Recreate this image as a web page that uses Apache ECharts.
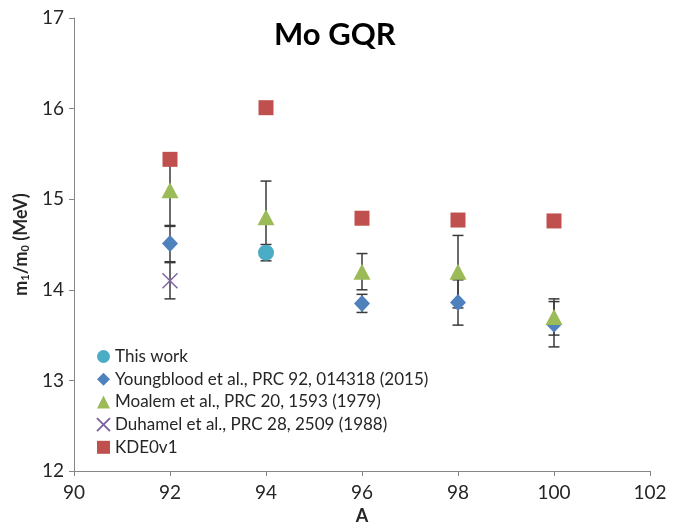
<!DOCTYPE html>
<html>
<head>
<meta charset="utf-8">
<script src="https://cdn.jsdelivr.net/npm/echarts@6/dist/echarts.min.js"></script>
<style>
  html, body { margin: 0; padding: 0; background: #fff; }
  #chart { width: 694px; height: 523px; }
</style>
</head>
<body>
<div id="chart"></div>
<script>
// Mass number A and the m1/m0 centroid energies (MeV) with uncertainties
const massNumbers = [92, 94, 96, 98, 100];

const thisWorkA = [94];
const thisWorkE = [14.41];
const thisWorkErr = [0.09];

const youngbloodA = [92, 96, 98, 100];
const youngbloodE = [14.51, 13.85, 13.86, 13.62];
const youngbloodErr = [0.2, 0.1, 0.25, 0.25];

const moalemA = [92, 94, 96, 98, 100];
const moalemE = [15.1, 14.8, 14.2, 14.2, 13.7];
const moalemErr = [0.4, 0.4, 0.2, 0.4, 0.2];

const duhamelA = [92];
const duhamelE = [14.1];
const duhamelErr = [0.2];

const kdeA = [92, 94, 96, 98, 100];
const kdeE = [15.44, 16.01, 14.79, 14.77, 14.76];

const xTicks = [90, 92, 94, 96, 98, 100, 102];
const yTicks = [12, 13, 14, 15, 16, 17];

const seriesNames = [
  'This work',
  'Youngblood et al., PRC 92, 014318 (2015)',
  'Moalem et al., PRC 20, 1593 (1979)',
  'Duhamel et al., PRC 28, 2509 (1988)',
  'KDE0v1'
];

const pairs = (xs, ys) => xs.map((x, i) => [x, ys[i]]);
const errRows = (xs, ys, es) => xs.map((x, i) => [x, ys[i], es[i]]);

const errorData = [].concat(
  errRows(thisWorkA, thisWorkE, thisWorkErr),
  errRows(youngbloodA, youngbloodE, youngbloodErr),
  errRows(moalemA, moalemE, moalemErr),
  errRows(duhamelA, duhamelE, duhamelErr)
);

const FONT = 'Lato, "Open Sans", sans-serif';
const TEXT = '#262626';
const AXIS = '#868686';

const chart = echarts.init(document.getElementById('chart'), null, { renderer: 'canvas' });

function renderErrorBar(params, api) {
  const x = api.value(0), y = api.value(1), e = api.value(2);
  const top = api.coord([x, y + e]);
  const bot = api.coord([x, y - e]);
  const half = 5.5;
  const style = { stroke: '#3a3a3a', lineWidth: 1.5 };
  return {
    type: 'group',
    children: [
      { type: 'line', shape: { x1: top[0], y1: top[1], x2: bot[0], y2: bot[1] }, style },
      { type: 'line', shape: { x1: top[0] - half, y1: top[1], x2: top[0] + half, y2: top[1] }, style },
      { type: 'line', shape: { x1: bot[0] - half, y1: bot[1], x2: bot[0] + half, y2: bot[1] }, style }
    ]
  };
}

const option = {
  backgroundColor: '#ffffff',
  animation: false,
  title: {
    text: 'Mo GQR',
    left: 269,
    top: 14,
    textStyle: { fontFamily: FONT, fontWeight: 'bold', fontSize: 31, color: '#000' }
  },
  grid: { left: 74, right: 44, top: 18, bottom: 52, containLabel: false, outerBoundsMode: 'none' },
  legend: {
    orient: 'vertical',
    left: 91,
    top: 343,
    itemWidth: 13,
    itemHeight: 13,
    itemGap: 5.7,
    data: seriesNames,
    textStyle: { fontFamily: FONT, fontSize: 17, color: TEXT, lineHeight: 17 }
  },
  xAxis: {
    type: 'value',
    min: xTicks[0],
    max: xTicks[xTicks.length - 1],
    interval: 2,
    name: 'A',
    nameLocation: 'middle',
    nameGap: 35,
    nameTextStyle: { fontFamily: FONT, fontWeight: 'bold', fontSize: 18, color: TEXT },
    axisLine: { show: true, lineStyle: { color: AXIS, width: 1 } },
    axisTick: { show: true, inside: false, length: 5, lineStyle: { color: AXIS } },
    axisLabel: { fontFamily: FONT, fontSize: 19, color: TEXT, margin: 12 },
    splitLine: { show: false }
  },
  yAxis: {
    type: 'value',
    min: yTicks[0],
    max: yTicks[yTicks.length - 1],
    interval: 1,
    name: 'm{sub|1}/m{sub|0} (MeV)',
    nameLocation: 'middle',
    nameGap: 42,
    nameRotate: 90,
    nameTextStyle: {
      fontFamily: FONT, fontWeight: 'bold', fontSize: 18, color: TEXT,
      rich: { sub: { fontFamily: FONT, fontWeight: 'bold', fontSize: 11, color: TEXT, verticalAlign: 'bottom', padding: [9, 0, 0, 0] } }
    },
    axisLine: { show: true, lineStyle: { color: AXIS, width: 1 } },
    axisTick: { show: true, inside: false, length: 5, lineStyle: { color: AXIS } },
    axisLabel: { fontFamily: FONT, fontSize: 19, color: TEXT, margin: 10 },
    splitLine: { show: false }
  },
  series: [
    {
      type: 'custom',
      name: 'errors',
      renderItem: renderErrorBar,
      data: errorData,
      encode: { x: 0, y: 1 },
      z: 1,
      silent: true
    },
    {
      type: 'scatter', name: seriesNames[0], data: pairs(thisWorkA, thisWorkE),
      symbol: 'circle', symbolSize: 16, itemStyle: { color: '#4BACC6', opacity: 1 }, z: 2
    },
    {
      type: 'scatter', name: seriesNames[1], data: pairs(youngbloodA, youngbloodE),
      symbol: 'diamond', symbolSize: [16, 17], itemStyle: { color: '#4F81BD', opacity: 1 }, z: 2
    },
    {
      type: 'scatter', name: seriesNames[2], data: pairs(moalemA, moalemE),
      symbol: 'triangle', symbolSize: [17, 16], itemStyle: { color: '#9BBB59', opacity: 1 }, z: 2
    },
    {
      type: 'scatter', name: seriesNames[3], data: pairs(duhamelA, duhamelE),
      symbol: 'path://M0,0L10,10M10,0L0,10', symbolSize: 15,
      itemStyle: { color: 'rgba(0,0,0,0)', borderColor: '#8064A2', borderWidth: 1.5, opacity: 1 }, z: 2
    },
    {
      type: 'scatter', name: seriesNames[4], data: pairs(kdeA, kdeE),
      symbol: 'rect', symbolSize: 15, itemStyle: { color: '#C0504D', opacity: 1 }, z: 2
    }
  ]
};

chart.setOption(option);
</script>
</body>
</html>
